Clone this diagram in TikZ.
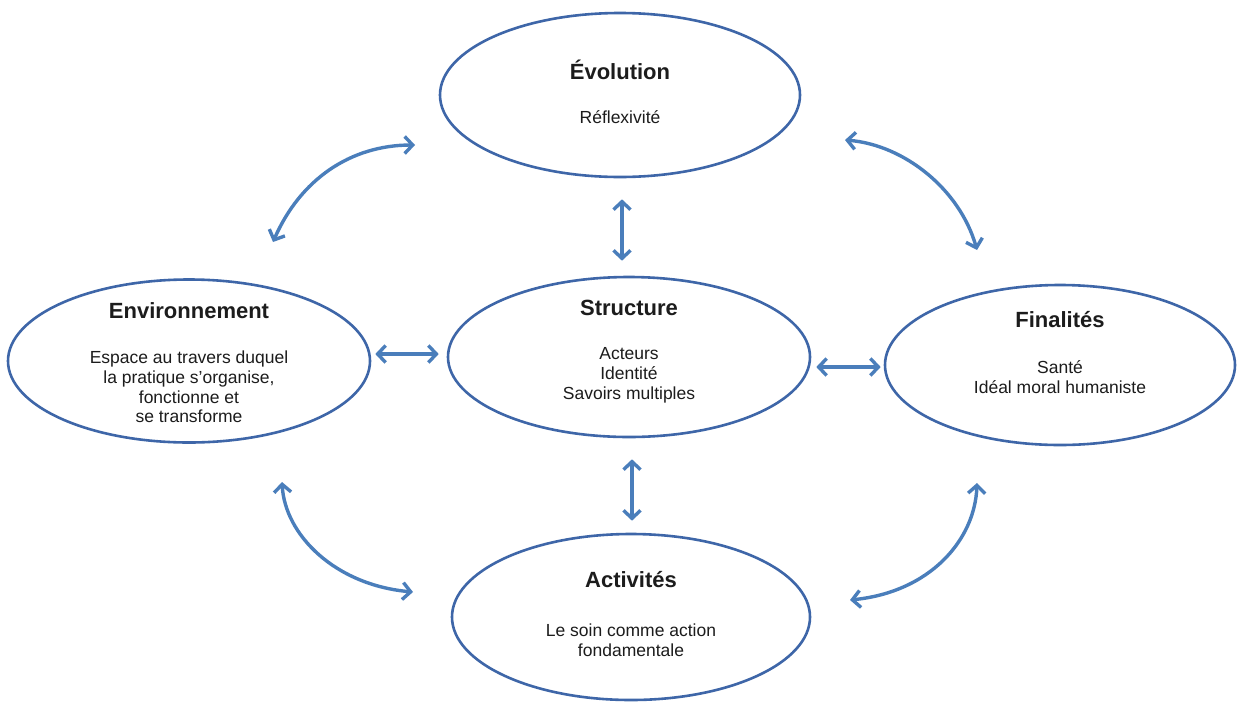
\documentclass[tikz,border=0pt]{standalone}
\usepackage{fontspec}
\setmainfont{Liberation Sans}
\usetikzlibrary{arrows.meta,shapes.geometric}
\definecolor{ell}{RGB}{62,102,168}
\definecolor{arr}{RGB}{74,126,187}
\definecolor{txt}{RGB}{28,28,28}
\begin{document}
\begin{tikzpicture}[x=1pt,y=-1pt,
  oval/.style={ellipse, draw=ell, line width=2.6pt, inner sep=0pt},
  titletext/.style={font=\fontsize{22}{26}\selectfont\bfseries, text=txt, inner sep=0pt},
  bodytext/.style={font=\fontsize{17.5}{19.8}\selectfont, text=txt, align=center, inner sep=0pt},
  link/.style={draw=arr, line width=3.4pt, {Straight Barb[length=8pt,width=17pt]}-{Straight Barb[length=8pt,width=17pt]}}]
\fill[white] (0,0) rectangle (1239,702);
\useasboundingbox (0,0) rectangle (1239,702);

% ellipses
\node[oval, minimum width=360pt, minimum height=164pt] (evo) at (620,95) {};
\node[oval, minimum width=362pt, minimum height=160pt] (str) at (629,357) {};
\node[oval, minimum width=362pt, minimum height=163pt] (env) at (189,361) {};
\node[oval, minimum width=350pt, minimum height=160pt] (fin) at (1060,365) {};
\node[oval, minimum width=358pt, minimum height=166pt] (act) at (631,617) {};

% texts
\node[titletext] (evoT) at (620,70) {Évolution};
\node[bodytext] (evoB) at (620,117) {Réflexivité};
\node[titletext] (strT) at (629,308) {Structure};
\node[bodytext] (strB) at (629,375) {Acteurs\\Identité\\Savoirs multiples};
\node[titletext] (envT) at (189,311) {Environnement};
\node[bodytext] (envB) at (189,387) {Espace au travers duquel\\la pratique s'organise,\\fonctionne et\\se transforme};
\node[titletext] (finT) at (1060,320) {Finalités};
\node[bodytext] (finB) at (1060,377) {Santé\\Idéal moral humaniste};
\node[titletext] (actT) at (631,580) {Activités};
\node[bodytext] (actB) at (631,640) {Le soin comme action\\fondamentale};

% straight links
\draw[link] ([shift={(4,-7)}]env.east) -- ([shift={(-8,-3)}]str.west);
\draw[link] ([shift={(5,10)}]str.east) -- ([shift={(-3,2)}]fin.west);
\draw[link] ([shift={(2,21)}]evo.south) -- ([shift={(-7,-15)}]str.north);
\draw[link] ([shift={(3,21)}]str.south) -- ([shift={(1,-12)}]act.north);

% curved links
\coordinate (c1a) at (273,242);
\coordinate (c1b) at (415,145);
\coordinate (c2a) at (845,140);
\coordinate (c2b) at (977,250);
\coordinate (c3a) at (282,482);
\coordinate (c3b) at (413,592);
\coordinate (c4a) at (977,483);
\coordinate (c4b) at (850,600);
\draw[link] (c1a) .. controls (300,180) and (350,145) .. (c1b);
\draw[link] (c2a) .. controls (905,145) and (960,190) .. (c2b);
\draw[link] (c3a) .. controls (285,535) and (335,585) .. (c3b);
\draw[link] (c4a) .. controls (975,540) and (930,592) .. (c4b);
\end{tikzpicture}
\end{document}
